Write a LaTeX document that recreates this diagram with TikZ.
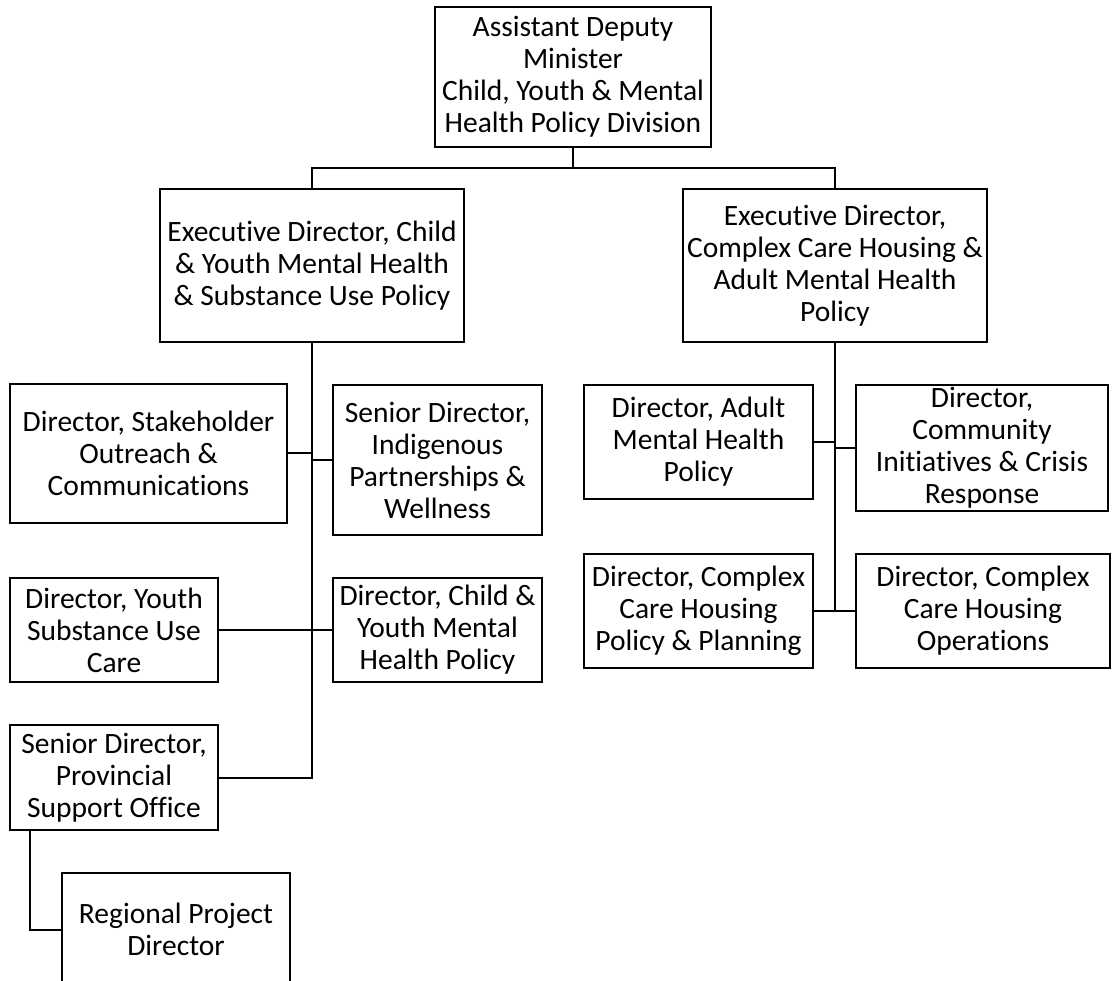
\documentclass[tikz,border=0pt]{standalone}
\usepackage{fontspec}
\setmainfont{Carlito}[Ligatures=NoCommon]
\usetikzlibrary{positioning, calc}
\definecolor{orgline}{RGB}{0, 0, 0}
\tikzset{
    post/.style={rectangle, draw=orgline, line width=2pt, align=center,
        inner sep=2pt, font=\fontsize{29.5}{32}\selectfont},
    link/.style={draw=orgline, line width=2pt},
}

\begin{document}
\begin{tikzpicture}[x=1pt, y=-1pt]
    \clip (0,0) rectangle (1112,981);
    % minister and executive directors
    \node[post, minimum width=276pt, minimum height=140pt] (adm) at (573,77)
        {Assistant Deputy\\Minister\\Child, Youth \& Mental\\Health Policy Division};
    \node[post, minimum width=304pt, minimum height=153pt] (edcy) at (312,265.5)
        {Executive Director, Child\\\& Youth Mental Health\\\& Substance Use Policy};
    \node[post, minimum width=304pt, minimum height=153pt] (edcc) at (835,265.5)
        {Executive Director,\\Complex Care Housing \&\\Adult Mental Health\\Policy};
    \coordinate (split) at (573,168);
    \draw[link] (adm.south) -- (split);
    \draw[link] (edcy.north) |- (split) -| (edcc.north);

    % child and youth side
    \node[post, minimum width=277pt, minimum height=139pt] (stake) at (148.5,453.5)
        {Director, Stakeholder\\Outreach \&\\Communications};
    \node[post, minimum width=209pt, minimum height=150pt] (indig) at (437.5,460)
        {Senior Director,\\Indigenous\\Partnerships \&\\Wellness};
    \node[post, minimum width=208pt, minimum height=104pt] (yscare) at (114,630)
        {Director, Youth\\Substance Use\\Care};
    \node[post, minimum width=209pt, minimum height=104pt] (cymh) at (437.5,630)
        {Director, Child \&\\Youth Mental\\Health Policy};
    \node[post, minimum width=208pt, minimum height=105pt] (pso) at (114,777.5)
        {Senior Director,\\Provincial\\Support Office};
    \node[post, minimum width=228pt, minimum height=113pt] (rpd) at (176,929.5)
        {Regional Project\\Director};
    \draw[link] (edcy.south) |- (pso.east);
    \draw[link] (stake.east) -- (stake.east -| edcy.south);
    \draw[link] (indig.west) -- (indig.west -| edcy.south);
    \draw[link] (yscare.east) -- (cymh.west);
    \draw[link] ([xshift=21pt]pso.south west) |- (rpd.west);

    % complex care side
    \node[post, minimum width=229pt, minimum height=114pt] (amh) at (698.5,442)
        {Director, Adult\\Mental Health\\Policy};
    \node[post, minimum width=252pt, minimum height=126pt] (cicr) at (982,448)
        {Director,\\Community\\Initiatives \& Crisis\\Response};
    \node[post, minimum width=229pt, minimum height=114pt] (cchpp) at (698.5,611)
        {Director, Complex\\Care Housing\\Policy \& Planning};
    \node[post, minimum width=254pt, minimum height=114pt] (cchops) at (983,611)
        {Director, Complex\\Care Housing\\Operations};
    \draw[link] (edcc.south) -- (edcc.south |- cchpp.east);
    \draw[link] (amh.east) -- (amh.east -| edcc.south);
    \draw[link] (cicr.west) -- (cicr.west -| edcc.south);
    \draw[link] (cchpp.east) -- (cchops.west);
\end{tikzpicture}
\end{document}
